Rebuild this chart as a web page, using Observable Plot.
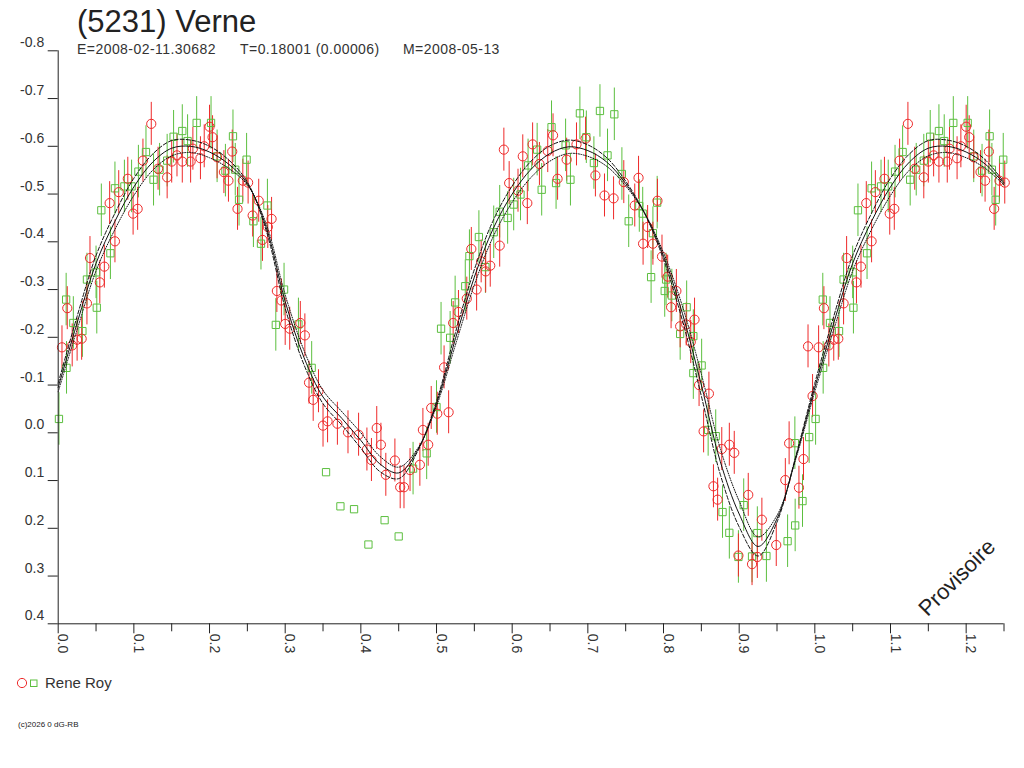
<!DOCTYPE html>
<html>
<head>
<meta charset="utf-8">
<script src="https://cdn.jsdelivr.net/npm/d3@7"></script>
<script src="https://cdn.jsdelivr.net/npm/@observablehq/plot@0.6"></script>
<style>
  html, body { margin: 0; padding: 0; background: #fff; overflow: hidden; }
  body { width: 1024px; height: 768px; position: relative; font-family: "Liberation Sans", Arial, sans-serif; color: #222; }
  #chart { position: absolute; left: 0; top: 0; }
  .abs { position: absolute; white-space: pre; line-height: 1; }
  #title { left: 77px; top: 6px; font-size: 31px; }
  .sub { top: 42px; font-size: 14px; letter-spacing: 0.45px; color: #333; }
  #legend { left: 16px; top: 675px; font-size: 15px; display: flex; align-items: center; color: #333; }
  #copy { left: 18px; top: 721px; font-size: 8px; }
</style>
</head>
<body>
<div id="chart"></div>
<div class="abs" id="title">(5231) Verne</div>
<div class="abs sub" style="left:77px">E=2008-02-11.30682</div>
<div class="abs sub" style="left:240px">T=0.18001 (0.00006)</div>
<div class="abs sub" style="left:403px">M=2008-05-13</div>
<div class="abs" id="legend">
  <svg width="26" height="14" style="margin-right:3px">
    <circle cx="6" cy="7" r="4.6" fill="none" stroke="#ee2a2a"/>
    <rect x="14.5" y="4" width="6.5" height="6.5" fill="none" stroke="#5cbf3f"/>
  </svg><span>Rene Roy</span>
</div>
<div class="abs" id="copy">(c)2026 0 dG-RB</div>
<script>
// ---- data (phase, magnitude) ----
const redPhase = [0.005,0.012,0.0185,0.025,0.031,0.038,0.042,0.055,0.061,0.068,
  0.075,0.080,0.092,0.099,0.105,0.112,0.123,0.132,0.144,0.150,
  0.157,0.164,0.175,0.178,0.188,0.193,0.200,0.204,0.210,0.219,
  0.225,0.230,0.237,0.244,0.251,0.257,0.265,0.270,0.277,0.282,
  0.289,0.295,0.300,0.306,0.320,0.326,0.3315,0.337,0.344,0.350,
  0.356,0.369,0.383,0.397,0.408,0.414,0.421,0.4265,0.433,0.445,
  0.452,0.457,0.465,0.478,0.482,0.489,0.493,0.501,0.510,0.516,
  0.522,0.529,0.540,0.546,0.553,0.559,0.565,0.571,0.5835,0.589,
  0.596,0.6077,0.614,0.620,0.627,0.636,0.647,0.654,0.660,0.672,
  0.685,0.697,0.710,0.722,0.734,0.7475,0.762,0.767,0.773,0.779,
  0.786,0.792,0.798,0.8055,0.810,0.817,0.822,0.830,0.836,0.841,
  0.847,0.853,0.860,0.866,0.8715,0.877,0.887,0.8935,0.899,0.912,
  0.917,0.924,0.930,0.949,0.961,0.966,0.979,0.985,0.991,0.997];
const redMag = [-0.179,-0.261,-0.183,-0.195,-0.197,-0.271,-0.366,-0.315,-0.348,-0.481,
  -0.401,-0.504,-0.532,-0.459,-0.469,-0.570,-0.647,-0.553,-0.535,-0.568,
  -0.581,-0.568,-0.568,-0.595,-0.575,-0.600,-0.641,-0.619,-0.577,-0.546,
  -0.528,-0.589,-0.469,-0.528,-0.524,-0.455,-0.486,-0.404,-0.431,-0.448,
  -0.297,-0.277,-0.228,-0.218,-0.230,-0.204,-0.105,-0.069,-0.087,-0.015,
  -0.024,-0.019,-0.001,0.004,0.035,0.057,-0.010,0.025,0.088,0.058,
  0.114,0.114,0.078,0.067,-0.006,0.025,-0.052,-0.040,-0.137,-0.043,
  -0.230,-0.253,-0.281,-0.385,-0.300,-0.359,-0.338,-0.350,-0.392,-0.593,
  -0.523,-0.507,-0.579,-0.481,-0.604,-0.563,-0.590,-0.623,-0.532,-0.572,
  -0.604,-0.616,-0.539,-0.497,-0.491,-0.525,-0.476,-0.534,-0.396,-0.431,
  -0.396,-0.486,-0.369,-0.327,-0.263,-0.297,-0.223,-0.227,-0.190,-0.237,
  -0.100,-0.003,-0.082,0.112,0.140,0.034,0.025,0.042,0.257,0.130,
  0.275,0.260,0.182,0.235,0.099,0.022,0.115,0.055,-0.181,-0.077];
const greenPhase = [0.001,0.0105,0.011,0.020,0.032,0.038,0.050,0.051,0.057,0.069,
  0.075,0.0875,0.097,0.106,0.116,0.126,0.134,0.144,0.1525,0.164,
  0.171,0.183,0.202,0.210,0.221,0.231,0.234,0.239,0.249,0.258,
  0.268,0.2765,0.2876,0.2985,0.3175,0.335,0.469,0.487,0.500,0.506,
  0.518,0.5246,0.538,0.5435,0.556,0.5646,0.5756,0.5835,0.594,0.602,
  0.611,0.621,0.633,0.639,0.652,0.658,0.6706,0.677,0.6895,0.698,
  0.708,0.716,0.726,0.735,0.745,0.754,0.768,0.7725,0.7836,0.786,
  0.7916,0.8016,0.8034,0.811,0.822,0.8306,0.8394,0.8394,0.8504,0.859,
  0.869,0.878,0.887,0.899,0.906,0.917,0.924,0.936,0.964,0.9736,
  0.974,0.9837,0.9925];
const greenMag = [-0.029,-0.279,-0.136,-0.230,-0.213,-0.321,-0.336,-0.262,-0.466,-0.376,
  -0.512,-0.516,-0.516,-0.547,-0.588,-0.530,-0.551,-0.570,-0.620,-0.632,
  -0.611,-0.649,-0.649,-0.579,-0.549,-0.621,-0.551,-0.488,-0.572,-0.443,
  -0.396,-0.476,-0.226,-0.300,-0.227,-0.136,0.075,0.043,-0.054,-0.218,
  -0.199,-0.273,-0.307,-0.370,-0.410,-0.347,-0.420,-0.463,-0.450,-0.478,
  -0.499,-0.560,-0.593,-0.509,-0.640,-0.523,-0.602,-0.530,-0.669,-0.619,
  -0.565,-0.674,-0.581,-0.667,-0.542,-0.443,-0.475,-0.459,-0.326,-0.418,
  -0.482,-0.297,-0.321,-0.2875,-0.207,-0.263,-0.2025,-0.125,-0.141,-0.006,
  0.007,0.166,0.2095,0.260,0.1515,0.259,0.210,0.258,0.227,0.0217,
  0.194,0.143,0.009];
// green points drawn without error bars
const greenNoErrPhase = [0.354,0.373,0.391,0.410,0.4314,0.450];
const greenNoErrMag = [0.0825,0.154,0.160,0.234,0.183,0.217];
const redErr = 0.045;
const greenErr = 0.055;

// fitted curves
const curvePhase = [0,0.025,0.05,0.075,0.1,0.125,0.15,0.175,0.2,0.225,0.25,0.275,0.3,0.325,0.35,0.375,0.4,0.425,0.45,0.475,
  0.5,0.525,0.55,0.575,0.6,0.625,0.65,0.675,0.7,0.725,0.75,0.775,0.8,0.825,0.85,0.875,0.9,0.925,0.95,0.975,1.0];
const fitSolid = [-0.095,-0.230,-0.355,-0.443,-0.515,-0.567,-0.596,-0.600,-0.588,-0.563,-0.522,-0.430,-0.275,-0.157,-0.075,-0.030,0.016,0.065,0.084,0.036,
  -0.061,-0.197,-0.326,-0.428,-0.500,-0.552,-0.585,-0.599,-0.591,-0.567,-0.522,-0.460,-0.370,-0.250,-0.100,0.060,0.170,0.238,0.180,0.051,-0.095];
const fitDashed = [-0.104,-0.244,-0.371,-0.460,-0.533,-0.584,-0.612,-0.613,-0.600,-0.572,-0.525,-0.423,-0.261,-0.142,-0.061,-0.016,0.032,0.081,0.096,0.039,
  -0.066,-0.210,-0.342,-0.445,-0.517,-0.569,-0.601,-0.613,-0.603,-0.576,-0.527,-0.460,-0.363,-0.235,-0.077,0.087,0.197,0.258,0.187,0.048,-0.104];
const fitDotted = [-0.086,-0.216,-0.339,-0.426,-0.497,-0.550,-0.580,-0.587,-0.576,-0.554,-0.519,-0.437,-0.289,-0.172,-0.089,-0.044,0.000,0.049,0.072,0.033,
  -0.056,-0.184,-0.310,-0.411,-0.483,-0.535,-0.569,-0.585,-0.579,-0.558,-0.517,-0.460,-0.377,-0.265,-0.123,0.033,0.143,0.218,0.173,0.054,-0.086];

// axes
const xTicks = [0,0.1,0.2,0.3,0.4,0.5,0.6,0.7,0.8,0.9,1.0,1.1,1.2];
const xMinorTicks = [0.05,0.15,0.25,0.35,0.45,0.55,0.65,0.75,0.85,0.95,1.05,1.15,1.25];
const yTicks = [-0.8,-0.7,-0.6,-0.5,-0.4,-0.3,-0.2,-0.1,0.0,0.1,0.2,0.3,0.4];
const xDomain = [0, 1.25];
const yDomain = [-0.8, 0.4];

// ---- build tables (phase-folded data shown over 1.25 cycles) ----
const extra = 0.252;
function fold(phases, mags, err) {
  const rows = [];
  phases.forEach((p, i) => {
    rows.push({p, m: mags[i], e: err});
    if (p < extra) rows.push({p: p + 1, m: mags[i], e: err});
  });
  return rows;
}
const red = fold(redPhase, redMag, redErr);
const green = fold(greenPhase, greenMag, greenErr);
const greenOut = fold(greenNoErrPhase, greenNoErrMag, 0);
const curves = [];
curvePhase.forEach((p, i) => {
  curves.push({p, s: fitSolid[i], a: fitDashed[i], b: fitDotted[i]});
});
curvePhase.forEach((p, i) => {
  if (p > 0 && p <= 0.25 + 1e-9) curves.push({p: p + 1, s: fitSolid[i], a: fitDashed[i], b: fitDotted[i]});
});

const RED = "#ee2a2a", GREEN = "#5cbf3f", INK = "#222";

const chart = Plot.plot({
  width: 1024,
  height: 660,
  marginLeft: 57.7,
  marginRight: 20.5,
  marginTop: 50.3,
  marginBottom: 36.7,
  style: {fontFamily: '"Liberation Sans", Arial, sans-serif', background: "#fff", color: INK},
  x: {domain: xDomain, label: null},
  y: {domain: yDomain, reverse: true, label: null},
  marks: [
    Plot.ruleX(green, {x: "p", y1: d => d.m - d.e, y2: d => d.m + d.e, stroke: GREEN, strokeWidth: 1}),
    Plot.ruleX(red, {x: "p", y1: d => d.m - d.e, y2: d => d.m + d.e, stroke: RED, strokeWidth: 1}),
    Plot.dot(green, {x: "p", y: "m", symbol: "square", r: 4.1, stroke: GREEN, fill: "none", strokeWidth: 1}),
    Plot.dot(greenOut, {x: "p", y: "m", symbol: "square", r: 4.1, stroke: GREEN, fill: "none", strokeWidth: 1}),
    Plot.dot(red, {x: "p", y: "m", r: 4.6, stroke: RED, fill: "none", strokeWidth: 1}),
    Plot.line(curves, {x: "p", y: "a", curve: "catmull-rom", stroke: "#111", strokeWidth: 1, strokeDasharray: "4,2"}),
    Plot.line(curves, {x: "p", y: "b", curve: "catmull-rom", stroke: "#111", strokeWidth: 1, strokeDasharray: "1,1.5"}),
    Plot.line(curves, {x: "p", y: "s", curve: "catmull-rom", stroke: "#111", strokeWidth: 1}),
    Plot.ruleX([xDomain[0]], {stroke: INK}),
    Plot.ruleY([yDomain[1]], {stroke: INK}),
    Plot.axisX({ticks: xMinorTicks, tickSize: 8, tickFormat: () => "", stroke: INK, label: null}),
    Plot.axisX({ticks: xTicks, tickSize: 10, tickFormat: () => "", stroke: INK, label: null}),
    Plot.axisY({ticks: yTicks, tickSize: 10, tickFormat: () => "", stroke: INK, label: null}),
    Plot.text(xTicks, {x: d => d, y: yDomain[1], text: d => d.toFixed(1), rotate: 90, textAnchor: "start", lineAnchor: "bottom", dy: 10, fontSize: 14, fill: "#333"}),
    Plot.text(yTicks, {x: xDomain[0], y: d => d, text: d => d.toFixed(1), textAnchor: "end", dx: -14, dy: -8, fontSize: 14, fill: "#333"}),
    Plot.text(["Provisoire"], {frameAnchor: "bottom-right", textAnchor: "middle", lineAnchor: "middle", rotate: -45, dx: -47, dy: -46, fontSize: 22, fill: INK})
  ]
});
document.getElementById("chart").appendChild(chart);
</script>
</body>
</html>
